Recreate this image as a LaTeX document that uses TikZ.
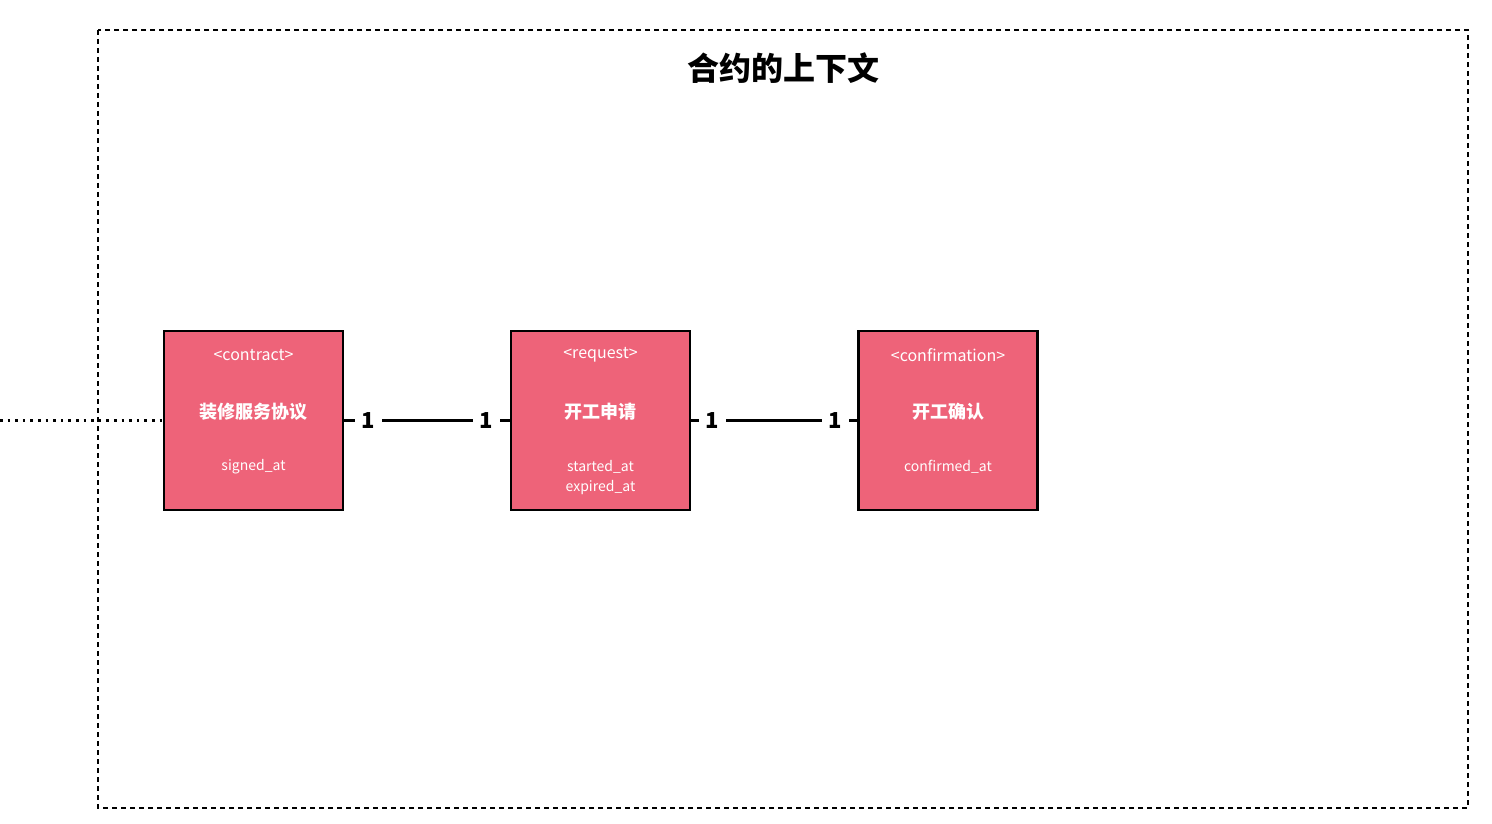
\documentclass[tikz,border=0pt]{standalone}
\usepackage{fontspec}
\setmainfont{Noto Sans CJK SC}
\usetikzlibrary{positioning}
\definecolor{boxred}{HTML}{EE6379}
\tikzset{frame/.style={line width=2.8pt,dash pattern=on 5pt off 4pt}}
\tikzset{entity/.style={draw=black,line width=2.8pt,fill=boxred,minimum width=179pt,minimum height=179pt,inner sep=0pt}}
\tikzset{tag/.style={text=white,font=\fontsize{16}{18}\selectfont}}
\tikzset{ename/.style={text=white,font=\bfseries\fontsize{18}{20}\selectfont}}
\tikzset{attr/.style={text=white,font=\fontsize{14}{20}\selectfont,align=center}}
\tikzset{link/.style={line width=2.6pt}}
\tikzset{mult/.style={fill=white,inner xsep=7pt,inner ysep=2pt,font=\bfseries\fontsize{22}{22}\selectfont}}

\begin{document}
\begin{tikzpicture}[x=1pt,y=-1pt]
	\useasboundingbox (0,0) rectangle (1492,824);
	\draw[frame] (98,30) rectangle (1468,808);
	\node (title) at (783,68) {\bfseries\fontsize{32}{34}\selectfont 合约的上下文};
	%%
	\node[entity] (contract) at (253.5,420.5) {};
	\node[entity] (request) at (600.5,420.5) {};
	\node[entity] (confirm) at (948,420.5) {};
	
	\node[tag] (contracttag) at (253.5,355) {<contract>};
	\node[ename] (contractname) at (253.5,412) {装修服务协议};
	\node[attr] (contractattr) at (253.5,467) {signed\_at};
	
	\node[tag] (requesttag) at (600.5,355) {<request>};
	\node[ename] (requestname) at (600.5,412) {开工申请};
	\node[attr,anchor=north] (requestattr) at (600.5,457) {started\_at\\expired\_at};
	
	\node[tag] (confirmtag) at (948,355) {<confirmation>};
	\node[ename] (confirmname) at (948,412) {开工确认};
	\node[attr] (confirmattr) at (948,467) {confirmed\_at};
	
	\coordinate (outside) at (0,420.5);
	\draw[line width=2.6pt,dash pattern=on 2.6pt off 5pt] (outside) -- (contract.west);
	\draw[link] (contract) -- node[mult,pos=0.145] {1} node[mult,pos=0.86] {1} (request);
	\draw[link] (request) -- node[mult,pos=0.127] {1} node[mult,pos=0.87] {1} (confirm);

\end{tikzpicture}
\end{document}
